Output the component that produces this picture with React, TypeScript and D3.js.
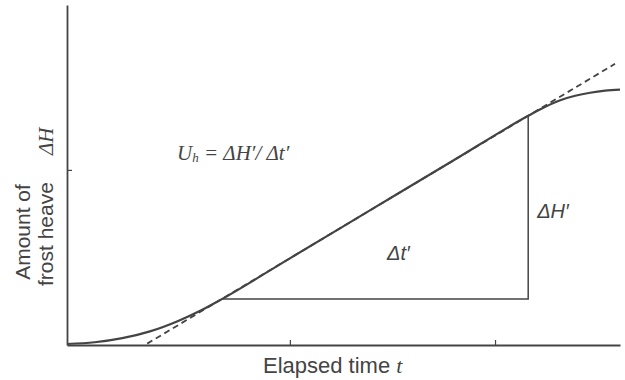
import { select, axisBottom, axisLeft, scaleLinear, line, curveMonotoneX } from "d3";
import React, { useEffect, useRef } from "react";

// frost heave curve, time vs heave (arbitrary units 0-100)
const curveTime = [0, 5, 10, 15, 20, 24, 28, 40, 55, 70, 83.4, 86.4, 89.2, 91.9, 94.6, 97.3, 100];
const curveHeave = [0.3, 0.8, 2.0, 4.0, 7.0, 10.0, 13.5, 25.2, 39.8, 54.4, 67.4, 70.0, 72.0, 73.3, 74.2, 74.8, 75.1];

// dashed tangent of the linear stage
const tangentTime = [14.5, 99.1];
const tangentHeave = [0.4, 82.7];

// the Δt' / ΔH' triangle
const triTime = [28.0, 83.4, 83.4];
const triHeave = [13.5, 13.5, 67.4];

const timeTicks = [40.3, 77.4];
const heaveTicks = [51.5];

const W = 625;
const H = 380;
const ink = "#444";

export default function App() {
    const svgRef = useRef<SVGSVGElement>(null);

    const x = scaleLinear().domain([0, 100]).range([67, 620]);
    const y = scaleLinear().domain([0, 100]).range([345, 5]);

    useEffect(() => {
        const svg = select(svgRef.current);

        const xAxis = axisBottom(x).tickValues(timeTicks).tickSize(-5).tickSizeOuter(0).tickFormat(() => "");
        svg.select(".x-axis").attr("transform", `translate(0,${y(0)})`).call(xAxis as any);

        const yAxis = axisLeft(y).tickValues(heaveTicks).tickSize(-5).tickSizeOuter(0).tickFormat(() => "");
        svg.select(".y-axis").attr("transform", `translate(${x(0)},0)`).call(yAxis as any);

        svg.selectAll(".domain, .tick line").attr("stroke", ink).attr("stroke-width", 1.8);
        svg.selectAll(".tick line").attr("stroke-width", 1.2);
    }, []);

    const pts = curveTime.map((t, i) => [t, curveHeave[i]] as [number, number]);
    const curvePath = line<[number, number]>()
        .x((d) => x(d[0]))
        .y((d) => y(d[1]))
        .curve(curveMonotoneX)(pts);

    const straight = line<[number, number]>()
        .x((d) => x(d[0]))
        .y((d) => y(d[1]));
    const tangentPath = straight(tangentTime.map((t, i) => [t, tangentHeave[i]] as [number, number]));
    const triPath = straight(triTime.map((t, i) => [t, triHeave[i]] as [number, number]));

    const sans = "'Liberation Sans', Arial, sans-serif";
    const serif = "'Liberation Serif', 'Times New Roman', serif";

    return (
        <svg ref={svgRef} width={W} height={H} style={{ position: "absolute", left: 0, top: 0, background: "#fff" }}>
            <g className="x-axis" />
            <g className="y-axis" />

            <path d={tangentPath ?? ""} fill="none" stroke={ink} strokeWidth={1.8} strokeDasharray="6,4" />
            <path d={triPath ?? ""} fill="none" stroke={ink} strokeWidth={1.5} />
            <path d={curvePath ?? ""} fill="none" stroke={ink} strokeWidth={2.2} />

            {/* formula */}
            <text x={177} y={160} fontFamily={serif} fontStyle="italic" fontSize={21} fill={ink}>
                U<tspan fontSize={13} dy={2}>h</tspan>
                <tspan dy={-2}> = ΔH′/ Δt′</tspan>
            </text>

            <text x={x(83.4) + 9} y={218} fontFamily={sans} fontStyle="italic" fontSize={20} fill={ink}>
                ΔH′
            </text>
            <text x={387} y={260} fontFamily={sans} fontStyle="italic" fontSize={20} fill={ink}>
                Δt′
            </text>

            {/* axis titles */}
            <text x={263} y={373} fontFamily={sans} fontSize={22} fill={ink}>
                Elapsed time <tspan fontFamily={serif} fontStyle="italic">t</tspan>
            </text>
            <text transform="translate(30,232) rotate(-90)" textAnchor="middle" fontFamily={sans} fontSize={21} fill={ink}>
                Amount of
            </text>
            <text transform="translate(53,286) rotate(-90)" fontFamily={sans} fontSize={21} fill={ink}>
                frost heave
            </text>
            <text transform="translate(53,155) rotate(-90)" fontFamily={serif} fontStyle="italic" fontSize={21} fill={ink}>
                ΔH
            </text>
        </svg>
    );
}
